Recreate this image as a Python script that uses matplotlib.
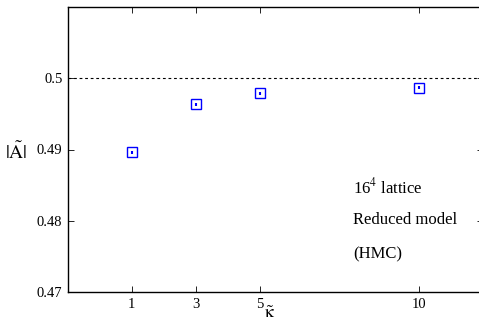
import matplotlib
matplotlib.use("Agg")
import matplotlib.pyplot as plt
import numpy as np

plt.rcParams['font.family'] = ['Liberation Serif', 'DejaVu Serif']
plt.rcParams['mathtext.fontset'] = 'stix'

kappa = [1, 3, 5, 10]
A_abs = [0.4896, 0.49635, 0.4979, 0.4987]
A_err = [0.0002, 0.0002, 0.0002, 0.0002]

xticks = [1, 3, 5, 10]
yticks = [0.47, 0.48, 0.49, 0.5]
yticklabels = ['0.47', '0.48', '0.49', '0.5']

fig = plt.figure(figsize=(4.79, 3.22), dpi=100)
ax = fig.add_axes([68/479, 30/322, 415/479, 285/322])

ax.axhline(0.5, color='black', linestyle=(0, (2.5, 2.5)), linewidth=0.8)
ax.errorbar(kappa, A_abs, yerr=A_err, fmt='s', mfc='none', mec='blue',
            ecolor='blue', ms=6.5, mew=1.0, capsize=0, elinewidth=1.5)

ax.set_xlim(-1, 12)
ax.set_ylim(0.47, 0.51)
ax.set_xticks(xticks)
ax.set_xticklabels([str(t) for t in xticks])
ax.set_yticks(yticks)
ax.set_yticklabels(yticklabels)
ax.tick_params(direction='in', length=4, width=0.6, labelsize=10.5,
               top=True, right=True, pad=4)
for s in ax.spines.values():
    s.set_linewidth(1.0)

ax.set_ylabel(r'$|\tilde{\mathrm{A}}|$', fontsize=14, rotation=0, va='center')
ax.yaxis.set_label_coords(-0.124, 0.491)
ax.set_xlabel(r'$\tilde{\mathrm{\kappa}}$', fontsize=13)
ax.xaxis.set_label_coords((270 - 68) / 415, -13 / 285)

ax.text(7.94, 0.4847, r'16$^4$ lattice', fontsize=12, va='center')
ax.text(7.94, 0.4801, 'Reduced model', fontsize=12, va='center')
ax.text(7.94, 0.4753, '(HMC)', fontsize=12, va='center')

fig.savefig('out.png', dpi=100)
